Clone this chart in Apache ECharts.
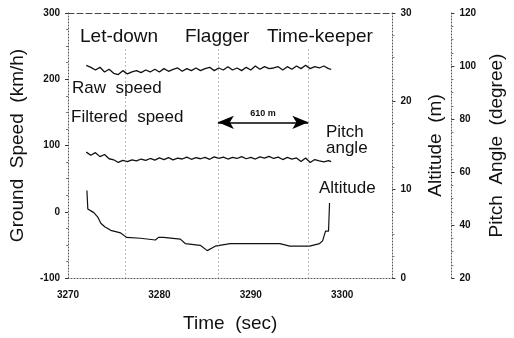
<!DOCTYPE html>
<html>
<head>
<meta charset="utf-8">
<script src="https://cdn.jsdelivr.net/npm/echarts@6/dist/echarts.min.js"></script>
<style>
  html, body { margin: 0; padding: 0; background: #fff; }
  #chart { width: 514px; height: 338px; }
</style>
</head>
<body>
<div id="chart"></div>
<script>
// time (sec) for the sampled speed / pitch traces
const sampleTimes = [
  3272.0, 3272.5, 3273.0, 3273.5, 3274.0, 3274.5, 3275.0, 3275.5, 3276.0, 3276.5,
  3277.0, 3277.5, 3278.0, 3278.5, 3279.0, 3279.5, 3280.0, 3280.5, 3281.0, 3281.5,
  3282.0, 3282.5, 3283.0, 3283.5, 3284.0, 3284.5, 3285.0, 3285.5, 3286.0, 3286.5,
  3287.0, 3287.5, 3288.0, 3288.5, 3289.0, 3289.5, 3290.0, 3290.5, 3291.0, 3291.5,
  3292.0, 3292.5, 3293.0, 3293.5, 3294.0, 3294.5, 3295.0, 3295.5, 3296.0, 3296.5,
  3297.0, 3297.5, 3298.0, 3298.5, 3298.8
];
// raw ground speed (km/h)
const rawSpeed = [
  221, 218, 214, 218, 211, 215, 209, 207, 213, 208,
  211, 213, 210, 214, 211, 215, 211, 216, 212, 215,
  217, 212, 216, 213, 217, 213, 216, 218, 213, 217,
  214, 219, 214, 217, 213, 218, 214, 220, 215, 219,
  216, 217, 219, 214, 219, 215, 220, 216, 221, 216,
  219, 217, 220, 216, 215
];
// pitch angle (degree)
const pitchAngle = [
  67.5, 66.3, 67.3, 65.8, 66.6, 65.0, 64.6, 63.6, 64.4, 63.9,
  64.6, 64.2, 64.9, 64.4, 65.1, 64.5, 65.3, 64.7, 65.4, 64.6,
  65.2, 64.9, 65.6, 64.8, 65.4, 65.0, 65.5, 64.8, 65.7, 65.1,
  65.6, 64.9, 65.5, 65.1, 65.8, 65.0, 65.5, 64.9, 65.7, 65.2,
  65.9, 65.1, 65.6, 64.7, 65.5, 64.9, 65.3, 64.0, 65.3, 63.6,
  64.7, 64.2, 63.8, 64.3, 63.9
];
// altitude (m)
const altitudeTimes = [
  3272.07, 3272.17, 3272.50, 3272.83, 3273.26, 3273.59, 3274.02, 3274.67, 3275.76, 3276.41,
  3277.93, 3279.57, 3279.90, 3280.44, 3282.29, 3282.83, 3284.47, 3285.24, 3286.11, 3287.74,
  3289.92, 3293.18, 3294.27, 3296.44, 3297.53, 3297.86, 3298.18, 3298.51, 3298.62
];
const altitude = [
  9.9, 7.8, 7.6, 7.4, 6.9, 6.2, 5.8, 5.4, 5.1, 4.6,
  4.5, 4.3, 4.6, 4.6, 4.4, 3.9, 3.7, 3.1, 3.6, 3.9,
  3.9, 3.9, 3.6, 3.6, 3.9, 4.2, 5.3, 5.3, 8.5
];
// event markers: Let-down, Flagger, Time-keeper
const eventTimes = [3276.3, 3286.4, 3296.3];
const distanceLabel = "610 m";

const speedTicks = { min: -100, max: 300, interval: 100 };
const altitudeTicks = { min: 0, max: 30, interval: 10 };
const pitchTicks = { min: 20, max: 120, interval: 20 };
const timeTicks = { min: 3270, max: 3305.5, interval: 10 };

const pair = (xs, ys) => xs.map((x, i) => [x, ys[i]]);

const font = "'Liberation Sans', Arial, sans-serif";
const dotted = { color: "#555", type: [1, 2], width: 1 };
const plain = (v) => String(v);

const chart = echarts.init(document.getElementById("chart"));

const sideAxis = (ticks, name, extra) => ({
  type: "value",
  min: ticks.min,
  max: ticks.max,
  interval: ticks.interval,
  name: name,
  nameLocation: "middle",
  nameRotate: 90,
  nameTextStyle: { fontFamily: font, fontSize: 19, color: "#111" },
  axisLine: { show: true, onZero: false, lineStyle: dotted },
  axisTick: { show: true, length: 3, lineStyle: { color: "#333" } },
  minorTick: { show: true, splitNumber: 4, length: 2, lineStyle: { color: "#777" } },
  axisLabel: { fontFamily: font, fontSize: 10, fontWeight: "bold", color: "#111", formatter: plain },
  splitLine: { show: false },
  ...extra,
});

const option = {
  animation: false,
  backgroundColor: "#fff",
  grid: { left: 67, right: 121, top: 13, bottom: 58 },
  xAxis: [
    {
      type: "value",
      min: timeTicks.min,
      max: timeTicks.max,
      interval: timeTicks.interval,
      name: "Time  (sec)",
      nameLocation: "middle",
      nameGap: 36,
      nameTextStyle: { fontFamily: font, fontSize: 19, color: "#111" },
      axisLine: { show: true, onZero: false, lineStyle: dotted },
      axisTick: { show: false },
      axisLabel: {
        fontFamily: font, fontSize: 10, fontWeight: "bold", color: "#111",
        margin: 12, showMaxLabel: false, formatter: plain,
      },
      splitLine: { show: false },
    },
    {
      type: "value",
      position: "top",
      min: timeTicks.min,
      max: timeTicks.max,
      axisLine: { show: true, onZero: false, lineStyle: { color: "#444", type: [6, 3], width: 1 } },
      axisTick: { show: false },
      axisLabel: { show: false },
      splitLine: { show: false },
    },
  ],
  yAxis: [
    sideAxis(speedTicks, "Ground  Speed  (km/h)", { position: "left", nameGap: 41 }),
    sideAxis(altitudeTicks, "Altitude  (m)", { position: "right", nameGap: 34 }),
    sideAxis(pitchTicks, "Pitch  Angle  (degree)", { position: "right", offset: 59, nameGap: 33 }),
  ],
  series: [
    {
      name: "Raw speed",
      type: "line",
      yAxisIndex: 0,
      data: pair(sampleTimes, rawSpeed),
      showSymbol: false,
      lineStyle: { color: "#111", width: 1.3 },
      markLine: {
        silent: true,
        symbol: "none",
        label: { show: false },
        lineStyle: { color: "#777", type: [1, 3], width: 1 },
        data: eventTimes.map((t) => [{ coord: [t, 245] }, { coord: [t, -100] }]),
      },
    },
    {
      name: "Distance",
      type: "line",
      yAxisIndex: 0,
      data: [],
      markLine: {
        silent: true,
        symbol: ["arrow", "arrow"],
        symbolSize: [10, 16],
        lineStyle: { color: "#000", type: "solid", width: 1.5 },
        label: {
          show: true,
          position: "middle",
          formatter: distanceLabel,
          fontFamily: font,
          fontSize: 9,
          fontWeight: "bold",
          color: "#111",
          distance: 4,
        },
        data: [[{ coord: [eventTimes[1], 135] }, { coord: [eventTimes[2], 135] }]],
      },
    },
    {
      name: "Pitch angle",
      type: "line",
      yAxisIndex: 2,
      data: pair(sampleTimes, pitchAngle),
      showSymbol: false,
      lineStyle: { color: "#111", width: 1.3 },
    },
    {
      name: "Altitude",
      type: "line",
      yAxisIndex: 1,
      data: pair(altitudeTimes, altitude),
      showSymbol: false,
      lineStyle: { color: "#111", width: 1.2 },
    },
  ],
  graphic: [
    { type: "text", left: 80, top: 27, style: { text: "Let-down", font: "19px " + font, fill: "#111" } },
    { type: "text", left: 185, top: 27, style: { text: "Flagger", font: "19px " + font, fill: "#111" } },
    { type: "text", left: 267, top: 27, style: { text: "Time-keeper", font: "19px " + font, fill: "#111" } },
    { type: "text", left: 72, top: 80, style: { text: "Raw  speed", font: "17px " + font, fill: "#111" } },
    { type: "text", left: 71, top: 109, style: { text: "Filtered  speed", font: "17px " + font, fill: "#111" } },
    { type: "text", left: 326, top: 124, style: { text: "Pitch\nangle", font: "17px " + font, fill: "#111", lineHeight: 16 } },
    { type: "text", left: 319, top: 180, style: { text: "Altitude", font: "17px " + font, fill: "#111" } },
  ],
};

chart.setOption(option);

window.addEventListener("resize", () => {
  chart.resize();
});
</script>
</body>
</html>
